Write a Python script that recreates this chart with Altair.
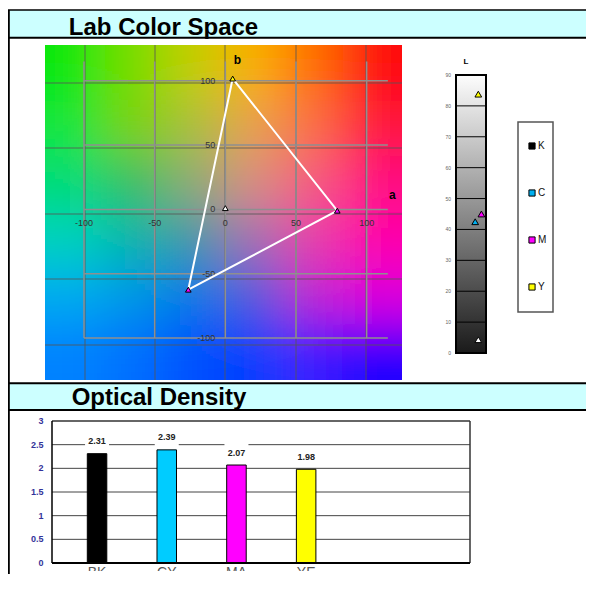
import base64
import altair as alt
import pandas as pd

# ---------------- data ----------------
lab_names = ["K", "C", "M", "Y"]
lab_a = [0.0, -26.2, 79.2, 5.2]
lab_b = [1.0, -62.4, -1.0, 101.7]
lab_fill = ["#FFFFFF", "#FF00FF", "#FF00FF", "#FFFF00"]
gamut_order = ["Y", "M", "C", "Y"]

L_names = ["K", "C", "M", "Y"]
L_values = [4.3, 42.5, 45.0, 83.8]
L_slot = [0, -1, 1, 0]
L_fill = ["#FFFFFF", "#00B0F0", "#FF00FF", "#FFFF00"]

legend_labels = ["K", "C", "M", "Y"]
legend_fill = ["#000000", "#00B0F0", "#FF00FF", "#FFFF00"]

od_cats = ["BK", "CY", "MA", "YE"]
od_values = [2.31, 2.39, 2.07, 1.98]
od_fill = ["#000000", "#00CCFF", "#FF00FF", "#FFFF00"]

ab_ticks = [-100, -50, 0, 50, 100]
ab_tick_labels = ["-100", "-50", "0", "50", "100"]
L_ticks = [0, 10, 20, 30, 40, 50, 60, 70, 80, 90]
od_ticks = [0, 0.5, 1, 1.5, 2, 2.5, 3]
od_tick_labels = ["0", "0.5", "1", "1.5", "2", "2.5", "3"]

# colours of the a*b* background plane, rows top (b+) -> bottom (b-), cols a- -> a+
plane_colors = [
    ["#10E810", "#78DC00", "#C3CD00", "#FAAF00", "#FF6E00", "#FF0A0A"],
    ["#14E63C", "#7CD000", "#AABE3C", "#E6A050", "#FA6E46", "#FF143C"],
    ["#00DC78", "#32BE64", "#8CAA78", "#D78C82", "#F55A82", "#FF0A82"],
    ["#00D2BE", "#00B4AA", "#3C96AA", "#A06EB4", "#E63CAA", "#FF00AA"],
    ["#00AAF0", "#0096E6", "#0078E6", "#505ADC", "#BE28D2", "#DC00DC"],
    ["#0082FF", "#006EFF", "#0050FF", "#003CFF", "#3C1EFF", "#2000FF"],
]

# ---------------- background image (svg) ----------------
IW, IH = 357, 335
nr, nc = len(plane_colors), len(plane_colors[0])
cw, ch = IW / nc, IH / nr
pad = 90
parts = []
for i, row in enumerate(plane_colors):
    for j, c in enumerate(row):
        x0, x1 = j * cw, (j + 1) * cw
        y0, y1 = i * ch, (i + 1) * ch
        if j == 0:
            x0 -= pad
        if j == nc - 1:
            x1 += pad
        if i == 0:
            y0 -= pad
        if i == nr - 1:
            y1 += pad
        parts.append(
            f'<rect x="{x0:.1f}" y="{y0:.1f}" width="{x1 - x0 + 0.6:.1f}" '
            f'height="{y1 - y0 + 0.6:.1f}" fill="{c}"/>'
        )
lines = []
for yy in [38, 103, 169, 234, 300]:
    lines.append(f'<line x1="0" x2="{IW}" y1="{yy}" y2="{yy}" stroke="#555" stroke-opacity="0.55" stroke-width="1.5"/>')
for xx in [40, 110, 180, 251, 321]:
    lines.append(f'<line y1="0" y2="{IH}" x1="{xx}" x2="{xx}" stroke="#555" stroke-opacity="0.55" stroke-width="1.5"/>')
svg = (
    f'<svg xmlns="http://www.w3.org/2000/svg" width="{IW}" height="{IH}" '
    f'viewBox="0 0 {IW} {IH}" preserveAspectRatio="none">'
    f'<defs><filter id="f" filterUnits="userSpaceOnUse" x="{-pad}" y="{-pad}" '
    f'width="{IW + 2 * pad}" height="{IH + 2 * pad}">'
    f'<feGaussianBlur stdDeviation="24"/></filter></defs>'
    f'<g filter="url(#f)">{"".join(parts)}</g>{"".join(lines)}</svg>'
)
img_url = "data:image/svg+xml;base64," + base64.b64encode(svg.encode()).decode()

# ---------------- scales ----------------
def lin(domain, rng):
    return alt.Scale(domain=domain, range=rng, nice=False, zero=False)

A = lin([-127.6, 125.0], [37, 394])
B = lin([-132.6, 127.8], [372, 37])
LS = lin([0, 90], [345, 67])
LX = lin([-1, 1], [467.2, 473.4])
LG = alt.Scale(type="point", domain=legend_labels, range=[138, 279], padding=0)
BX = alt.Scale(type="band", domain=od_cats, range=[9.6, 377.6],
               paddingInner=0.72, paddingOuter=1.0)
BY = lin([0, 3], [555, 413])

one = pd.DataFrame({"k": [0]})
FONT = "Liberation Sans"
W, H = 578, 566


def vrect(x, x2, y, y2, **kw):
    return alt.Chart(one).mark_rect(**kw).encode(
        x=alt.value(x), x2=alt.value(x2), y=alt.value(y), y2=alt.value(y2))


def hrule(x, x2, y, color="black", w=1.0):
    return alt.Chart(one).mark_rule(color=color, strokeWidth=w).encode(
        x=alt.value(x), x2=alt.value(x2), y=alt.value(y))


def vrule(x, y, y2, color="black", w=1.0):
    return alt.Chart(one).mark_rule(color=color, strokeWidth=w).encode(
        x=alt.value(x), y=alt.value(y), y2=alt.value(y2))


def label(x, y, txt, **kw):
    return alt.Chart(one).mark_text(**kw).encode(
        x=alt.value(x), y=alt.value(y), text=alt.value(txt))


layers = []

# header bands
layers.append(vrect(0, W, 2, 30, fill="#CCFFFF"))
layers.append(vrect(0, W, 375, 402, fill="#CCFFFF"))
layers.append(label(155.5, 27, "Lab Color Space", fontSize=24, fontWeight="bold",
                    align="center", baseline="alphabetic", color="black"))
layers.append(label(151, 397, "Optical Density", fontSize=24, fontWeight="bold",
                    align="center", baseline="alphabetic", color="black"))
layers.append(vrect(2, W, 31, 36, fill="white"))

# ---- Lab plane ----
layers.append(
    alt.Chart(pd.DataFrame({"url": [img_url]}))
    .mark_image(width=IW, height=IH, aspect=False, align="left", baseline="top")
    .encode(x=alt.value(37), y=alt.value(37), url="url:N")
)
hgrid = pd.DataFrame({"b": ab_ticks, "a0": -100, "a1": 115})
vgrid = pd.DataFrame({"a": ab_ticks, "b0": -100, "b1": 115})
layers.append(
    alt.Chart(hgrid).mark_rule(color="#8f8f8f", strokeWidth=1.5).encode(
        x=alt.X("a0:Q", scale=A, axis=None), x2="a1:Q",
        y=alt.Y("b:Q", scale=B, axis=None))
)
layers.append(
    alt.Chart(vgrid).mark_rule(color="#8f8f8f", strokeWidth=1.5).encode(
        y=alt.Y("b0:Q", scale=B, axis=None), y2="b1:Q",
        x=alt.X("a:Q", scale=A, axis=None))
)
atl = pd.DataFrame({"a": ab_ticks, "b": 0, "t": ab_tick_labels})
layers.append(
    alt.Chart(atl).mark_text(dy=14, fontSize=9, color="#333", baseline="middle").encode(
        x=alt.X("a:Q", scale=A, axis=None), y=alt.Y("b:Q", scale=B, axis=None), text="t:N")
)
btl = pd.DataFrame({"a": 0, "b": ab_ticks, "t": ab_tick_labels})
layers.append(
    alt.Chart(btl).mark_text(dx=-10, fontSize=9, color="#333", align="right",
                             baseline="middle").encode(
        x=alt.X("a:Q", scale=A, axis=None), y=alt.Y("b:Q", scale=B, axis=None), text="t:N")
)
layers.append(label(229.3, 52, "b", fontSize=12, fontWeight="bold", baseline="middle"))
layers.append(label(384.3, 187, "a", fontSize=12, fontWeight="bold", baseline="middle"))

lab_df = pd.DataFrame({"n": lab_names, "a": lab_a, "b": lab_b, "fill": lab_fill})
pos = {n: (a, b) for n, a, b in zip(lab_names, lab_a, lab_b)}
gam = pd.DataFrame({"i": list(range(len(gamut_order))),
                    "a": [pos[n][0] for n in gamut_order],
                    "b": [pos[n][1] for n in gamut_order]})
layers.append(
    alt.Chart(gam).mark_line(color="white", strokeWidth=2).encode(
        x=alt.X("a:Q", scale=A, axis=None), y=alt.Y("b:Q", scale=B, axis=None),
        order="i:Q")
)
layers.append(
    alt.Chart(lab_df).mark_point(shape="triangle-up", filled=True, size=32, opacity=1,
                                 stroke="black", strokeWidth=1).encode(
        x=alt.X("a:Q", scale=A, axis=None), y=alt.Y("b:Q", scale=B, axis=None),
        fill=alt.Fill("fill:N", scale=None))
)

# ---- L bar ----
grad = alt.LinearGradient(
    gradient="linear",
    stops=[alt.GradientStop(color="#1a1a1a", offset=0),
           alt.GradientStop(color="#fdfdfd", offset=1)],
    x1=0, x2=0, y1=1, y2=0)
layers.append(
    alt.Chart(pd.DataFrame({"L0": [0], "L1": [90]}))
    .mark_rect(fill=grad, stroke="black", strokeWidth=2)
    .encode(x=alt.value(448), x2=alt.value(478),
            y=alt.Y("L0:Q", scale=LS, axis=None), y2="L1:Q")
)
layers.append(
    alt.Chart(pd.DataFrame({"L": L_ticks[1:-1]})).mark_rule(color="black", strokeWidth=1)
    .encode(x=alt.value(448), x2=alt.value(478), y=alt.Y("L:Q", scale=LS, axis=None))
)
layers.append(
    alt.Chart(pd.DataFrame({"L": L_ticks, "t": [str(v) for v in L_ticks]}))
    .mark_text(align="right", baseline="middle", fontSize=5, color="#666")
    .encode(x=alt.value(443), y=alt.Y("L:Q", scale=LS, axis=None), text="t:N")
)
layers.append(label(458, 54, "L", fontSize=8, fontWeight="bold", baseline="middle"))
layers.append(
    alt.Chart(pd.DataFrame({"L": L_values, "s": L_slot, "fill": L_fill}))
    .mark_point(shape="triangle-up", filled=True, size=45, opacity=1,
                stroke="black", strokeWidth=1)
    .encode(x=alt.X("s:Q", scale=LX, axis=None), y=alt.Y("L:Q", scale=LS, axis=None),
            fill=alt.Fill("fill:N", scale=None))
)

# ---- legend ----
layers.append(vrect(510, 545, 114, 304, fill="white", stroke="#555", strokeWidth=1.5))
leg = pd.DataFrame({"n": legend_labels, "fill": legend_fill})
layers.append(
    alt.Chart(leg).mark_square(size=38, opacity=1, stroke="black", strokeWidth=1)
    .encode(x=alt.value(524), y=alt.Y("n:N", scale=LG, axis=None),
            fill=alt.Fill("fill:N", scale=None))
)
layers.append(
    alt.Chart(leg).mark_text(align="left", baseline="middle", fontSize=10, color="#111")
    .encode(x=alt.value(530), y=alt.Y("n:N", scale=LG, axis=None), text="n:N")
)

# ---- optical density bars ----
layers.append(
    alt.Chart(pd.DataFrame({"v": od_ticks[1:-1]})).mark_rule(color="#444", strokeWidth=1)
    .encode(x=alt.value(44), x2=alt.value(462), y=alt.Y("v:Q", scale=BY, axis=None))
)
layers.append(hrule(44, 462, 413, "#333", 1.5))
layers.append(vrule(462, 413, 555, "#333", 1.5))
od = pd.DataFrame({"c": od_cats, "v": od_values, "f": od_fill})
layers.append(
    alt.Chart(od).mark_bar(stroke="black", strokeWidth=1)
    .encode(x=alt.X("c:N", scale=BX, axis=None), y=alt.Y("v:Q", scale=BY, axis=None),
            fill=alt.Fill("f:N", scale=None))
)
layers.append(
    alt.Chart(od).mark_point(shape="M-1,-0.75L1,-0.75L1,0.75L-1,0.75Z", filled=True,
                             fill="white", size=576, opacity=1, strokeWidth=0, yOffset=-12.5)
    .encode(x=alt.X("c:N", scale=BX, axis=None), y=alt.Y("v:Q", scale=BY, axis=None))
)
layers.append(
    alt.Chart(od).mark_text(dy=-12.5, fontSize=9, fontWeight="bold", color="#222",
                            baseline="middle")
    .encode(x=alt.X("c:N", scale=BX, axis=None), y=alt.Y("v:Q", scale=BY, axis=None),
            text=alt.Text("v:Q", format=".2f"))
)
layers.append(
    alt.Chart(pd.DataFrame({"v": od_ticks, "t": od_tick_labels}))
    .mark_text(align="right", baseline="middle", fontSize=9, fontWeight="bold",
               color="#333399")
    .encode(x=alt.value(35.5), y=alt.Y("v:Q", scale=BY, axis=None), text="t:N")
)
layers.append(vrule(44, 413, 555, "black", 1.5))
layers.append(hrule(44, 462, 555, "black", 2))
layers.append(
    alt.Chart(od).mark_text(baseline="top", fontSize=14, color="#555")
    .encode(x=alt.X("c:N", scale=BX, axis=None), y=alt.value(558), text="c:N")
)
layers.append(vrect(3, W, 563, H, fill="white"))

# ---- frame lines ----
layers.append(hrule(0, W, 2, "black", 1.5))
layers.append(hrule(0, W, 29.7, "black", 2))
layers.append(hrule(0, W, 375.3, "black", 2))
layers.append(hrule(0, W, 402, "black", 2))
layers.append(vrule(0.8, 2, H, "black", 2))

chart = (
    alt.layer(*layers)
    .resolve_scale(x="independent", y="independent")
    .properties(width=W, height=H, padding=0,
                autosize=alt.AutoSizeParams(type="none"))
    .configure_view(strokeWidth=0)
    .configure_text(font=FONT)
)

chart.save("out.html", embed_options={"renderer": "svg", "actions": False})
